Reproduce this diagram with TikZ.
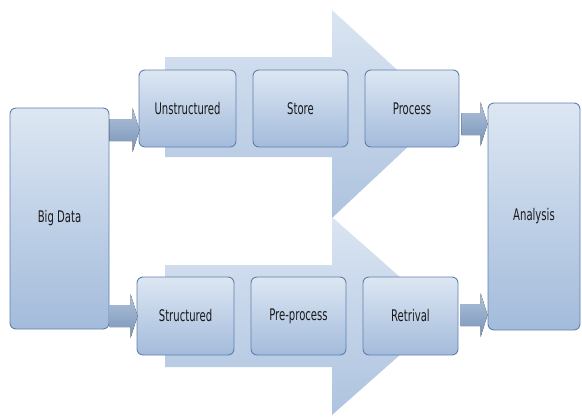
\documentclass[tikz,border=0pt]{standalone}
\usepackage{fontspec}
\setmainfont{DejaVu Sans Condensed}
\usetikzlibrary{calc}
\definecolor{boxtop}{HTML}{DDE7F3}
\definecolor{boxbot}{HTML}{A3BBDB}
\definecolor{boxborder}{HTML}{5F80AE}
\definecolor{bigtop}{HTML}{DAE5F2}
\definecolor{bigbot}{HTML}{AEC3DF}
\definecolor{smtop}{HTML}{AFC2DA}
\definecolor{smbot}{HTML}{7893B8}
\definecolor{txt}{HTML}{1A1A1A}
\newcommand\blkarrow[2]{%
  \fill[smallarrow] let \p1=#1, \p2=#2 in
    (\x1,\y1-11) -- (\x2-7,\y1-11) -- (\x2-7,\y1-22) -- (\x2,\y1) --
    (\x2-7,\y1+22) -- (\x2-7,\y1+11) -- (\x1,\y1+11) -- cycle;}
\newcommand\lbl[1]{\scalebox{0.7}[1]{#1}}
\begin{document}
\begin{tikzpicture}[x=1pt,y=-1pt,
  box/.style={draw=boxborder, line width=0.9pt, rounded corners=6pt,
    top color=boxtop, bottom color=boxbot, inner sep=0pt,
    text=txt, font=\fontsize{16}{18}\selectfont},
  bigarrow/.style={top color=bigtop, bottom color=bigbot},
  smallarrow/.style={top color=smtop, bottom color=smbot}]
\useasboundingbox (0,0) rectangle (582,416);

% big arrows
\path[bigarrow] (165,57) -- (332,57) -- (332,10) -- (444,113) -- (332,218) -- (332,157) -- (165,157) -- cycle;
\path[bigarrow] (165,265) -- (332,265) -- (332,217) -- (444,316) -- (332,415) -- (332,367) -- (165,367) -- cycle;

% boxes
\node[box, minimum width=99pt, minimum height=221pt] (bd) at (59.5,218.5) {\lbl{Big Data}};
\node[box, minimum width=92pt, minimum height=227pt] (an) at (534,216.5) {\lbl{Analysis}};
\node[box, minimum width=97pt, minimum height=77pt] (uns) at (187.5,108.5) {\lbl{Unstructured}};
\node[box, minimum width=95pt, minimum height=77pt] (sto) at (300.5,108.5) {\lbl{Store}};
\node[box, minimum width=94pt, minimum height=77pt] (pro) at (412,108.5) {\lbl{Process}};
\node[box, minimum width=97pt, minimum height=78pt] (str) at (185.5,316) {\lbl{Structured}};
\node[box, minimum width=95pt, minimum height=78pt] (pre) at (298.5,316) {\lbl{Pre-process}};
\node[box, minimum width=95pt, minimum height=78pt] (ret) at (410.5,316) {\lbl{Retrival}};

% small block arrows
\coordinate (ya) at (0,130);
\coordinate (yb) at (0,316);
\coordinate (yc) at (0,124);
\coordinate (yd) at (0,315);
\blkarrow{(bd.east |- ya)}{($(uns.west |- ya)+(1,0)$)}
\blkarrow{(bd.east |- yb)}{($(str.west |- yb)+(1,0)$)}
\blkarrow{($(pro.east |- yc)+(2,0)$)}{(an.west |- yc)}
\blkarrow{($(ret.east |- yd)+(2,0)$)}{(an.west |- yd)}
\end{tikzpicture}
\end{document}
